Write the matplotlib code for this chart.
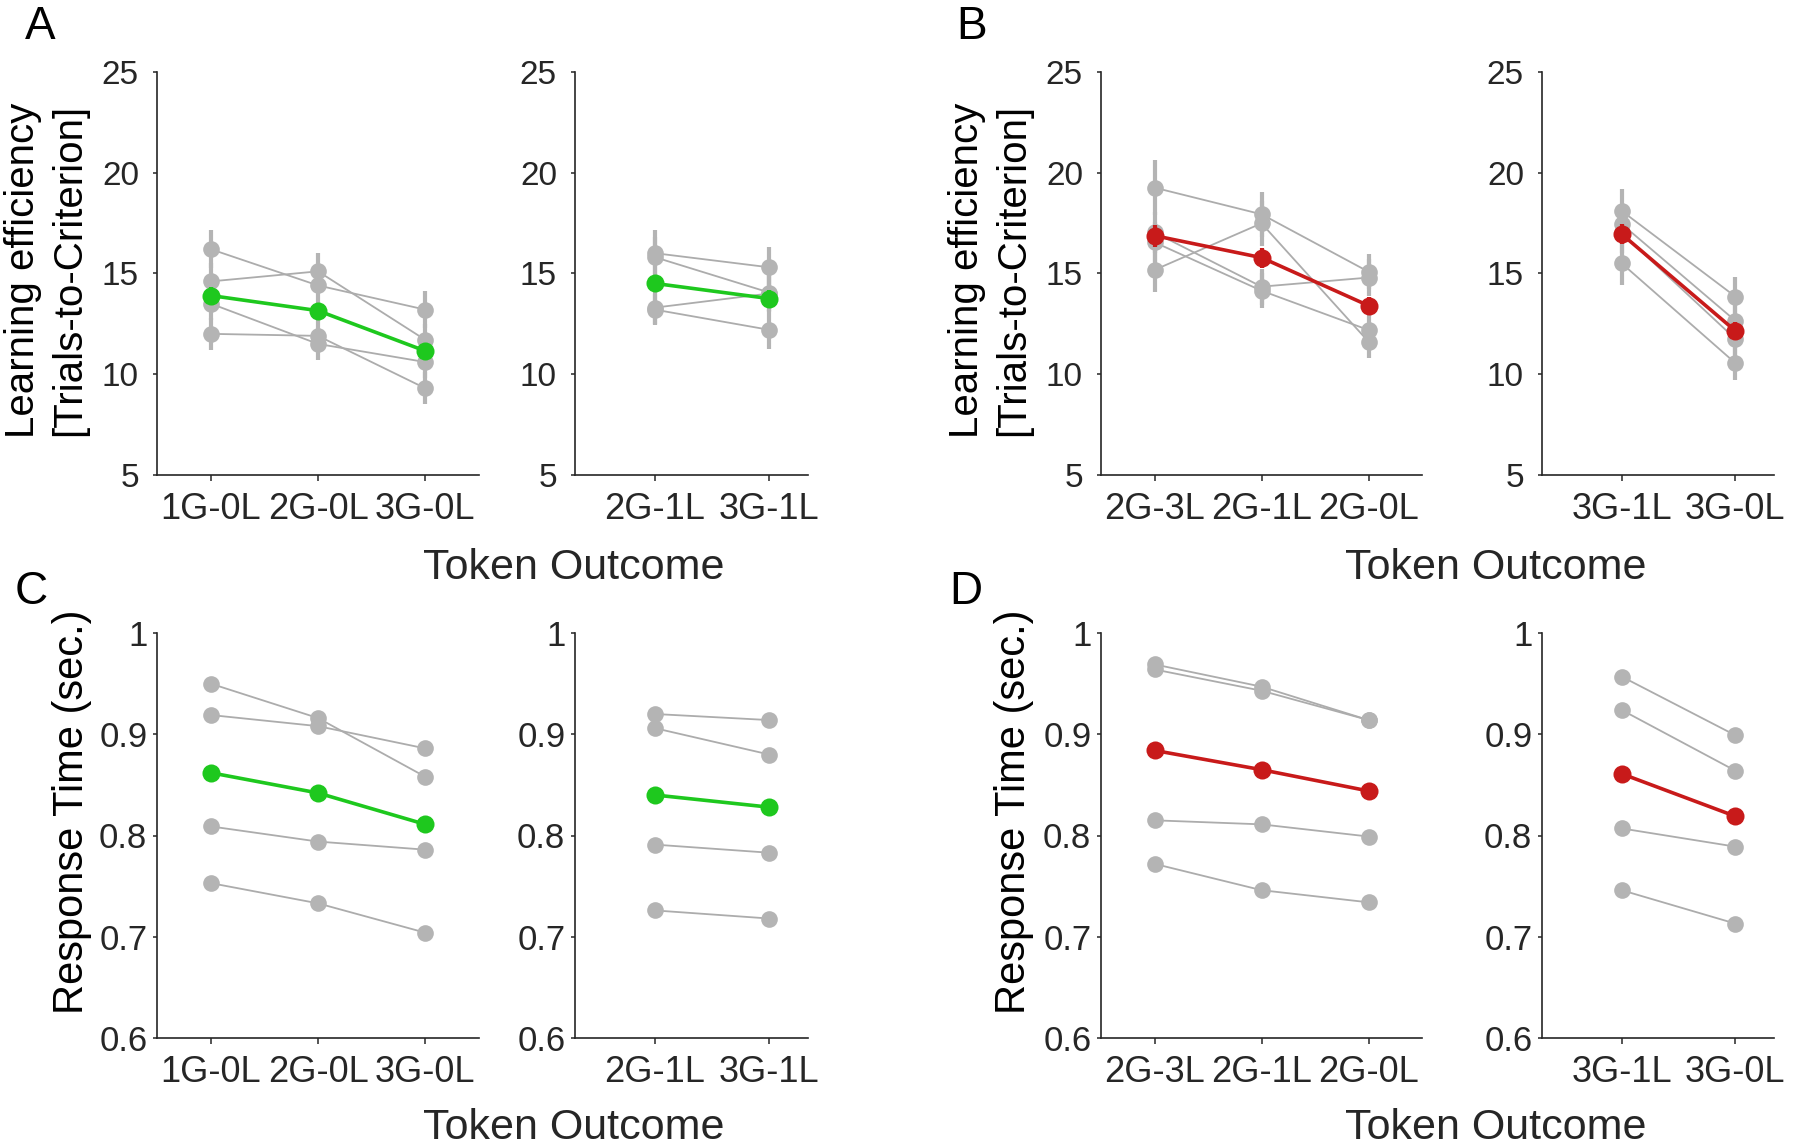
import matplotlib
matplotlib.use("Agg")
import matplotlib.pyplot as plt

plt.rcParams['font.family'] = ['Liberation Sans', 'DejaVu Sans']

# ---------------- data ----------------
condA_left = ['1G-0L', '2G-0L', '3G-0L']
condA_right = ['2G-1L', '3G-1L']
condB_left = ['2G-3L', '2G-1L', '2G-0L']
condB_right = ['3G-1L', '3G-0L']

# Panel A (learning efficiency, gains)
A_left_subj = [[16.2, 14.4, 13.2],
               [14.6, 15.1, 11.7],
               [13.5, 11.5, 10.6],
               [12.0, 11.9, 9.3]]
A_left_sem = [[0.95, 0.9, 0.9],
              [0.9, 0.9, 0.8],
              [0.8, 0.8, 0.8],
              [0.8, 0.8, 0.8]]
A_left_mean = [13.9, 13.15, 11.15]
A_left_mean_sem = [0.4, 0.4, 0.4]

A_right_subj = [[16.0, 15.3],
                [15.8, 14.05],
                [13.3, 14.0],
                [13.2, 12.2]]
A_right_sem = [[1.15, 1.0],
               [1.0, 0.9],
               [0.8, 0.9],
               [0.76, 0.97]]
A_right_mean = [14.5, 13.75]
A_right_mean_sem = [0.4, 0.4]

# Panel B (learning efficiency, losses)
B_left_subj = [[19.25, 17.93, 15.08],
               [15.17, 17.48, 11.61],
               [17.03, 14.34, 14.79],
               [16.54, 14.14, 12.19]]
B_left_sem = [[1.37, 1.12, 0.88],
              [1.08, 1.1, 0.82],
              [1.0, 0.9, 0.9],
              [1.0, 0.88, 0.8]]
B_left_mean = [16.87, 15.78, 13.4]
B_left_mean_sem = [0.55, 0.5, 0.45]

B_right_subj = [[18.1, 13.85],
                [17.45, 12.65],
                [17.0, 11.75],
                [15.5, 10.55]]
B_right_sem = [[1.06, 0.95],
               [1.0, 0.9],
               [1.0, 0.9],
               [1.08, 0.83]]
B_right_mean = [16.95, 12.15]
B_right_mean_sem = [0.5, 0.45]

# Panel C (response time, gains)
C_left_subj = [[0.950, 0.916, 0.858],
               [0.919, 0.908, 0.886],
               [0.809, 0.794, 0.786],
               [0.753, 0.733, 0.704]]
C_left_mean = [0.862, 0.842, 0.811]

C_right_subj = [[0.920, 0.914],
                [0.906, 0.880],
                [0.791, 0.783],
                [0.726, 0.718]]
C_right_mean = [0.840, 0.828]

# Panel D (response time, losses)
D_left_subj = [[0.969, 0.947, 0.914],
               [0.964, 0.943, 0.914],
               [0.815, 0.811, 0.799],
               [0.772, 0.746, 0.734]]
D_left_mean = [0.884, 0.865, 0.844]

D_right_subj = [[0.957, 0.899],
                [0.924, 0.864],
                [0.807, 0.789],
                [0.746, 0.713]]
D_right_mean = [0.861, 0.819]

yticks_top = [5, 10, 15, 20, 25]
yticks_bot = [0.6, 0.7, 0.8, 0.9, 1.0]
yticklabels_bot = ['0.6', '0.7', '0.8', '0.9', '1']

# ---------------- style ----------------
GRAY = '#b4b4b4'
GRAY_LINE = '#acacac'
GREEN = '#1ec81e'
RED = '#c81a1a'
DARK = '#262626'

W, H = 1800, 1148
fig = plt.figure(figsize=(W / 100, H / 100), dpi=100)


def add_ax(x0, x1, ytop, ybot):
    return fig.add_axes([x0 / W, 1 - ybot / H, (x1 - x0) / W, (ybot - ytop) / H])


def draw(ax, conds, subj, mean, color, sem=None, mean_sem=None, top=True):
    x = list(range(1, len(conds) + 1))
    for i, s in enumerate(subj):
        if sem is not None:
            ax.errorbar(x, s, yerr=sem[i], fmt='none', ecolor=GRAY,
                        elinewidth=3.0, capsize=0, zorder=1)
    for s in subj:
        ax.plot(x, s, '-', color=GRAY_LINE, lw=1.3, zorder=2)
        ax.plot(x, s, 'o', color=GRAY, ms=12, mec='none', zorder=3)
    if mean_sem is not None:
        ax.errorbar(x, mean, yerr=mean_sem, fmt='none', ecolor=color,
                    elinewidth=3.0, capsize=0, zorder=4)
    ax.plot(x, mean, '-', color=color, lw=2.6, zorder=5)
    ax.plot(x, mean, 'o', color=color, ms=13, mec='none', zorder=6)

    ax.set_xticks(x)
    ax.set_xticklabels(conds)
    if len(conds) == 3:
        ax.set_xlim(0.5, 3.5)
    else:
        ax.set_xlim(0.3, 2.34)
    if top:
        ax.set_ylim(5, 25)
        ax.set_yticks(yticks_top)
        ax.set_yticklabels([str(t) for t in yticks_top])
        ysize, ypad = 24, 10
    else:
        ax.set_ylim(0.6, 1.0)
        ax.set_yticks(yticks_bot)
        ax.set_yticklabels(yticklabels_bot)
        ysize, ypad = 25, 4
    for sp in ['top', 'right']:
        ax.spines[sp].set_visible(False)
    for sp in ['left', 'bottom']:
        ax.spines[sp].set_color(DARK)
        ax.spines[sp].set_linewidth(1.2)
    ax.tick_params(axis='y', direction='out', length=3, width=1.1,
                   colors=DARK, labelsize=ysize, pad=ypad)
    ax.tick_params(axis='x', direction='out', length=4, width=1.1,
                   colors=DARK, labelsize=26, pad=8)
    for sp in ax.spines.values():
        sp.set_clip_on(False)


cols = [(157, 479), (575, 808), (1101, 1422), (1542, 1774)]
top_row = (71.7, 475)
bot_row = (633, 1038)

axA1 = add_ax(*cols[0], *top_row)
axA2 = add_ax(*cols[1], *top_row)
axB1 = add_ax(*cols[2], *top_row)
axB2 = add_ax(*cols[3], *top_row)
axC1 = add_ax(*cols[0], *bot_row)
axC2 = add_ax(*cols[1], *bot_row)
axD1 = add_ax(*cols[2], *bot_row)
axD2 = add_ax(*cols[3], *bot_row)

draw(axA1, condA_left, A_left_subj, A_left_mean, GREEN, A_left_sem, A_left_mean_sem)
draw(axA2, condA_right, A_right_subj, A_right_mean, GREEN, A_right_sem, A_right_mean_sem)
draw(axB1, condB_left, B_left_subj, B_left_mean, RED, B_left_sem, B_left_mean_sem)
draw(axB2, condB_right, B_right_subj, B_right_mean, RED, B_right_sem, B_right_mean_sem)
draw(axC1, condA_left, C_left_subj, C_left_mean, GREEN, top=False)
draw(axC2, condA_right, C_right_subj, C_right_mean, GREEN, top=False)
draw(axD1, condB_left, D_left_subj, D_left_mean, RED, top=False)
draw(axD2, condB_right, D_right_subj, D_right_mean, RED, top=False)

# y labels
ylab_top = 'Learning efficiency\n[Trials-to-Criterion]'
ylab_bot = 'Response Time (sec.)'
fig.text(46 / W, 1 - 270 / H, ylab_top, rotation=90, ha='center', va='center',
         fontsize=29, color='black', linespacing=1.25)
fig.text(990 / W, 1 - 270 / H, ylab_top, rotation=90, ha='center', va='center',
         fontsize=29, color='black', linespacing=1.25)
fig.text(72 / W, 1 - 812 / H, ylab_bot, rotation=90, ha='center', va='center',
         fontsize=30, color='black')
fig.text(1014 / W, 1 - 812 / H, ylab_bot, rotation=90, ha='center', va='center',
         fontsize=30, color='black')

# x labels
for (xc, yc) in [(574, 568), (1496, 568), (574, 1128), (1496, 1128)]:
    fig.text(xc / W, 1 - yc / H, 'Token Outcome', ha='center', va='center',
             fontsize=31, color=DARK)

# panel letters
for (lab, xc, yc) in [('A', 40, 27), ('B', 972, 27), ('C', 31, 592), ('D', 966, 592)]:
    fig.text(xc / W, 1 - yc / H, lab, ha='center', va='center',
             fontsize=33, color='black')

fig.savefig('out.png', dpi=100)
